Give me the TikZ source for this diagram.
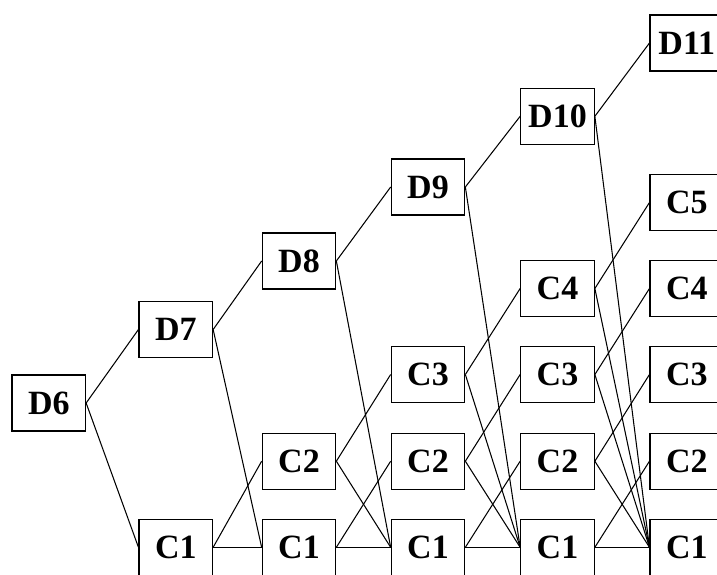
\documentclass[tikz,border=0pt]{standalone}
\usepackage{fontspec}
\setmainfont{Liberation Serif}
\begin{document}
\begin{tikzpicture}[x=1pt,y=-1pt,
  box/.style={draw, line width=1.2pt, fill=white, minimum width=73.5pt, minimum height=56pt, inner sep=0pt, font=\fontsize{34}{40}\selectfont\bfseries},
  link/.style={line width=1.05pt}]
\useasboundingbox (0,0) rectangle (717,574);
% column 1
\node[box] (d6) at (48.8,403) {D6};
% column 2
\node[box] (d7) at (175.8,329.5) {D7};
\node[box] (c21) at (175.8,547.3) {C1};
% column 3
\node[box] (d8) at (299,261) {D8};
\node[box] (c32) at (299,461.2) {C2};
\node[box] (c31) at (299,547.3) {C1};
% column 4
\node[box] (d9) at (428,187) {D9};
\node[box] (c43) at (428,374.5) {C3};
\node[box] (c42) at (428,461.2) {C2};
\node[box] (c41) at (428,547.3) {C1};
% column 5
\node[box] (d10) at (557.5,116.3) {D10};
\node[box] (c54) at (557.5,288.5) {C4};
\node[box] (c53) at (557.5,374.5) {C3};
\node[box] (c52) at (557.5,461.2) {C2};
\node[box] (c51) at (557.5,547.3) {C1};
% column 6
\node[box] (d11) at (686.8,43) {D11};
\node[box] (c65) at (686.8,202.5) {C5};
\node[box] (c64) at (686.8,288.5) {C4};
\node[box] (c63) at (686.8,374.5) {C3};
\node[box] (c62) at (686.8,461.2) {C2};
\node[box] (c61) at (686.8,547.3) {C1};
% links
\draw[link] (d6.east) -- (d7.west);
\draw[link] (d6.east) -- (c21.west);
\draw[link] (d7.east) -- (d8.west);
\draw[link] (d7.east) -- (c31.west);
\draw[link] (c21.east) -- (c32.west);
\draw[link] (c21.east) -- (c31.west);
\draw[link] (d8.east) -- (d9.west);
\draw[link] (d8.east) -- (c41.west);
\draw[link] (c32.east) -- (c43.west);
\draw[link] (c32.east) -- (c41.west);
\draw[link] (c31.east) -- (c42.west);
\draw[link] (c31.east) -- (c41.west);
\draw[link] (d9.east) -- (d10.west);
\draw[link] (d9.east) -- (c51.west);
\draw[link] (c43.east) -- (c54.west);
\draw[link] (c43.east) -- (c51.west);
\draw[link] (c42.east) -- (c53.west);
\draw[link] (c42.east) -- (c51.west);
\draw[link] (c41.east) -- (c52.west);
\draw[link] (c41.east) -- (c51.west);
\draw[link] (d10.east) -- (d11.west);
\draw[link] (d10.east) -- (c61.west);
\draw[link] (c54.east) -- (c65.west);
\draw[link] (c54.east) -- (c61.west);
\draw[link] (c53.east) -- (c64.west);
\draw[link] (c53.east) -- (c61.west);
\draw[link] (c52.east) -- (c63.west);
\draw[link] (c52.east) -- (c61.west);
\draw[link] (c51.east) -- (c62.west);
\draw[link] (c51.east) -- (c61.west);
\end{tikzpicture}
\end{document}
